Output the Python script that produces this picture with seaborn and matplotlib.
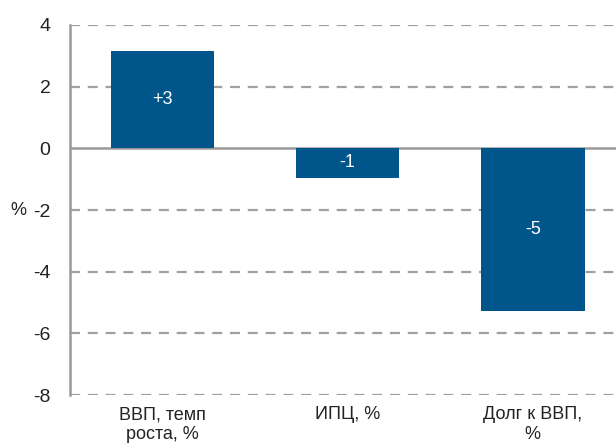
import matplotlib
matplotlib.use("Agg")
import matplotlib.pyplot as plt
import seaborn as sns
import pandas as pd

categories = ["ВВП, темп\nроста, %", "ИПЦ, %", "Долг к ВВП,\n%"]
values = [3.15, -0.95, -5.27]
bar_labels = ["+3", "-1", "-5"]
y_ticks = [-8, -6, -4, -2, 0, 2, 4]

sns.set_style("white")
plt.rcParams['font.family'] = ['Liberation Sans', 'DejaVu Sans']

df = pd.DataFrame({"cat": categories, "val": values})

fig = plt.figure(figsize=(6.16, 4.44), dpi=100)
ax = fig.add_axes([0.1136, 0.110, 0.8864, 0.834])

sns.barplot(data=df, x="cat", y="val", color="#00558B", saturation=1,
            width=0.56, ax=ax, zorder=3, edgecolor="none", linewidth=0)

for i, (v, lab) in enumerate(zip(values, bar_labels)):
    ax.text(i, v / 2, lab, ha="center", va="center", color="white", fontsize=13, zorder=4)

ax.set_ylim(-8, 4)
ax.set_xlim(-0.5, 2.45)
ax.set_yticks(y_ticks)
ax.set_yticklabels([str(t) for t in y_ticks], fontsize=14, color="#222222")
for t in y_ticks:
    if t == 0:
        ax.axhline(0, color="#999999", lw=1.8, zorder=2)
    else:
        ax.axhline(t, color="#A0A0A0", lw=1.6, ls=(0, (4.5, 3.5)), zorder=1)

ax.tick_params(axis="y", length=10, width=1.5, color="#999999", pad=4)
ax.tick_params(axis="x", length=0, pad=8, labelsize=13, labelcolor="#222222")
for s in ["top", "right", "bottom"]:
    ax.spines[s].set_visible(False)
ax.spines["left"].set_color("#999999")
ax.spines["left"].set_linewidth(1.8)

ax.set_xlabel("")
ax.set_ylabel("%", rotation=0, fontsize=13, color="#222222", va="center", ha="center")
ax.yaxis.set_label_coords(-0.095, 0.5)

fig.savefig("out.png", dpi=100)
